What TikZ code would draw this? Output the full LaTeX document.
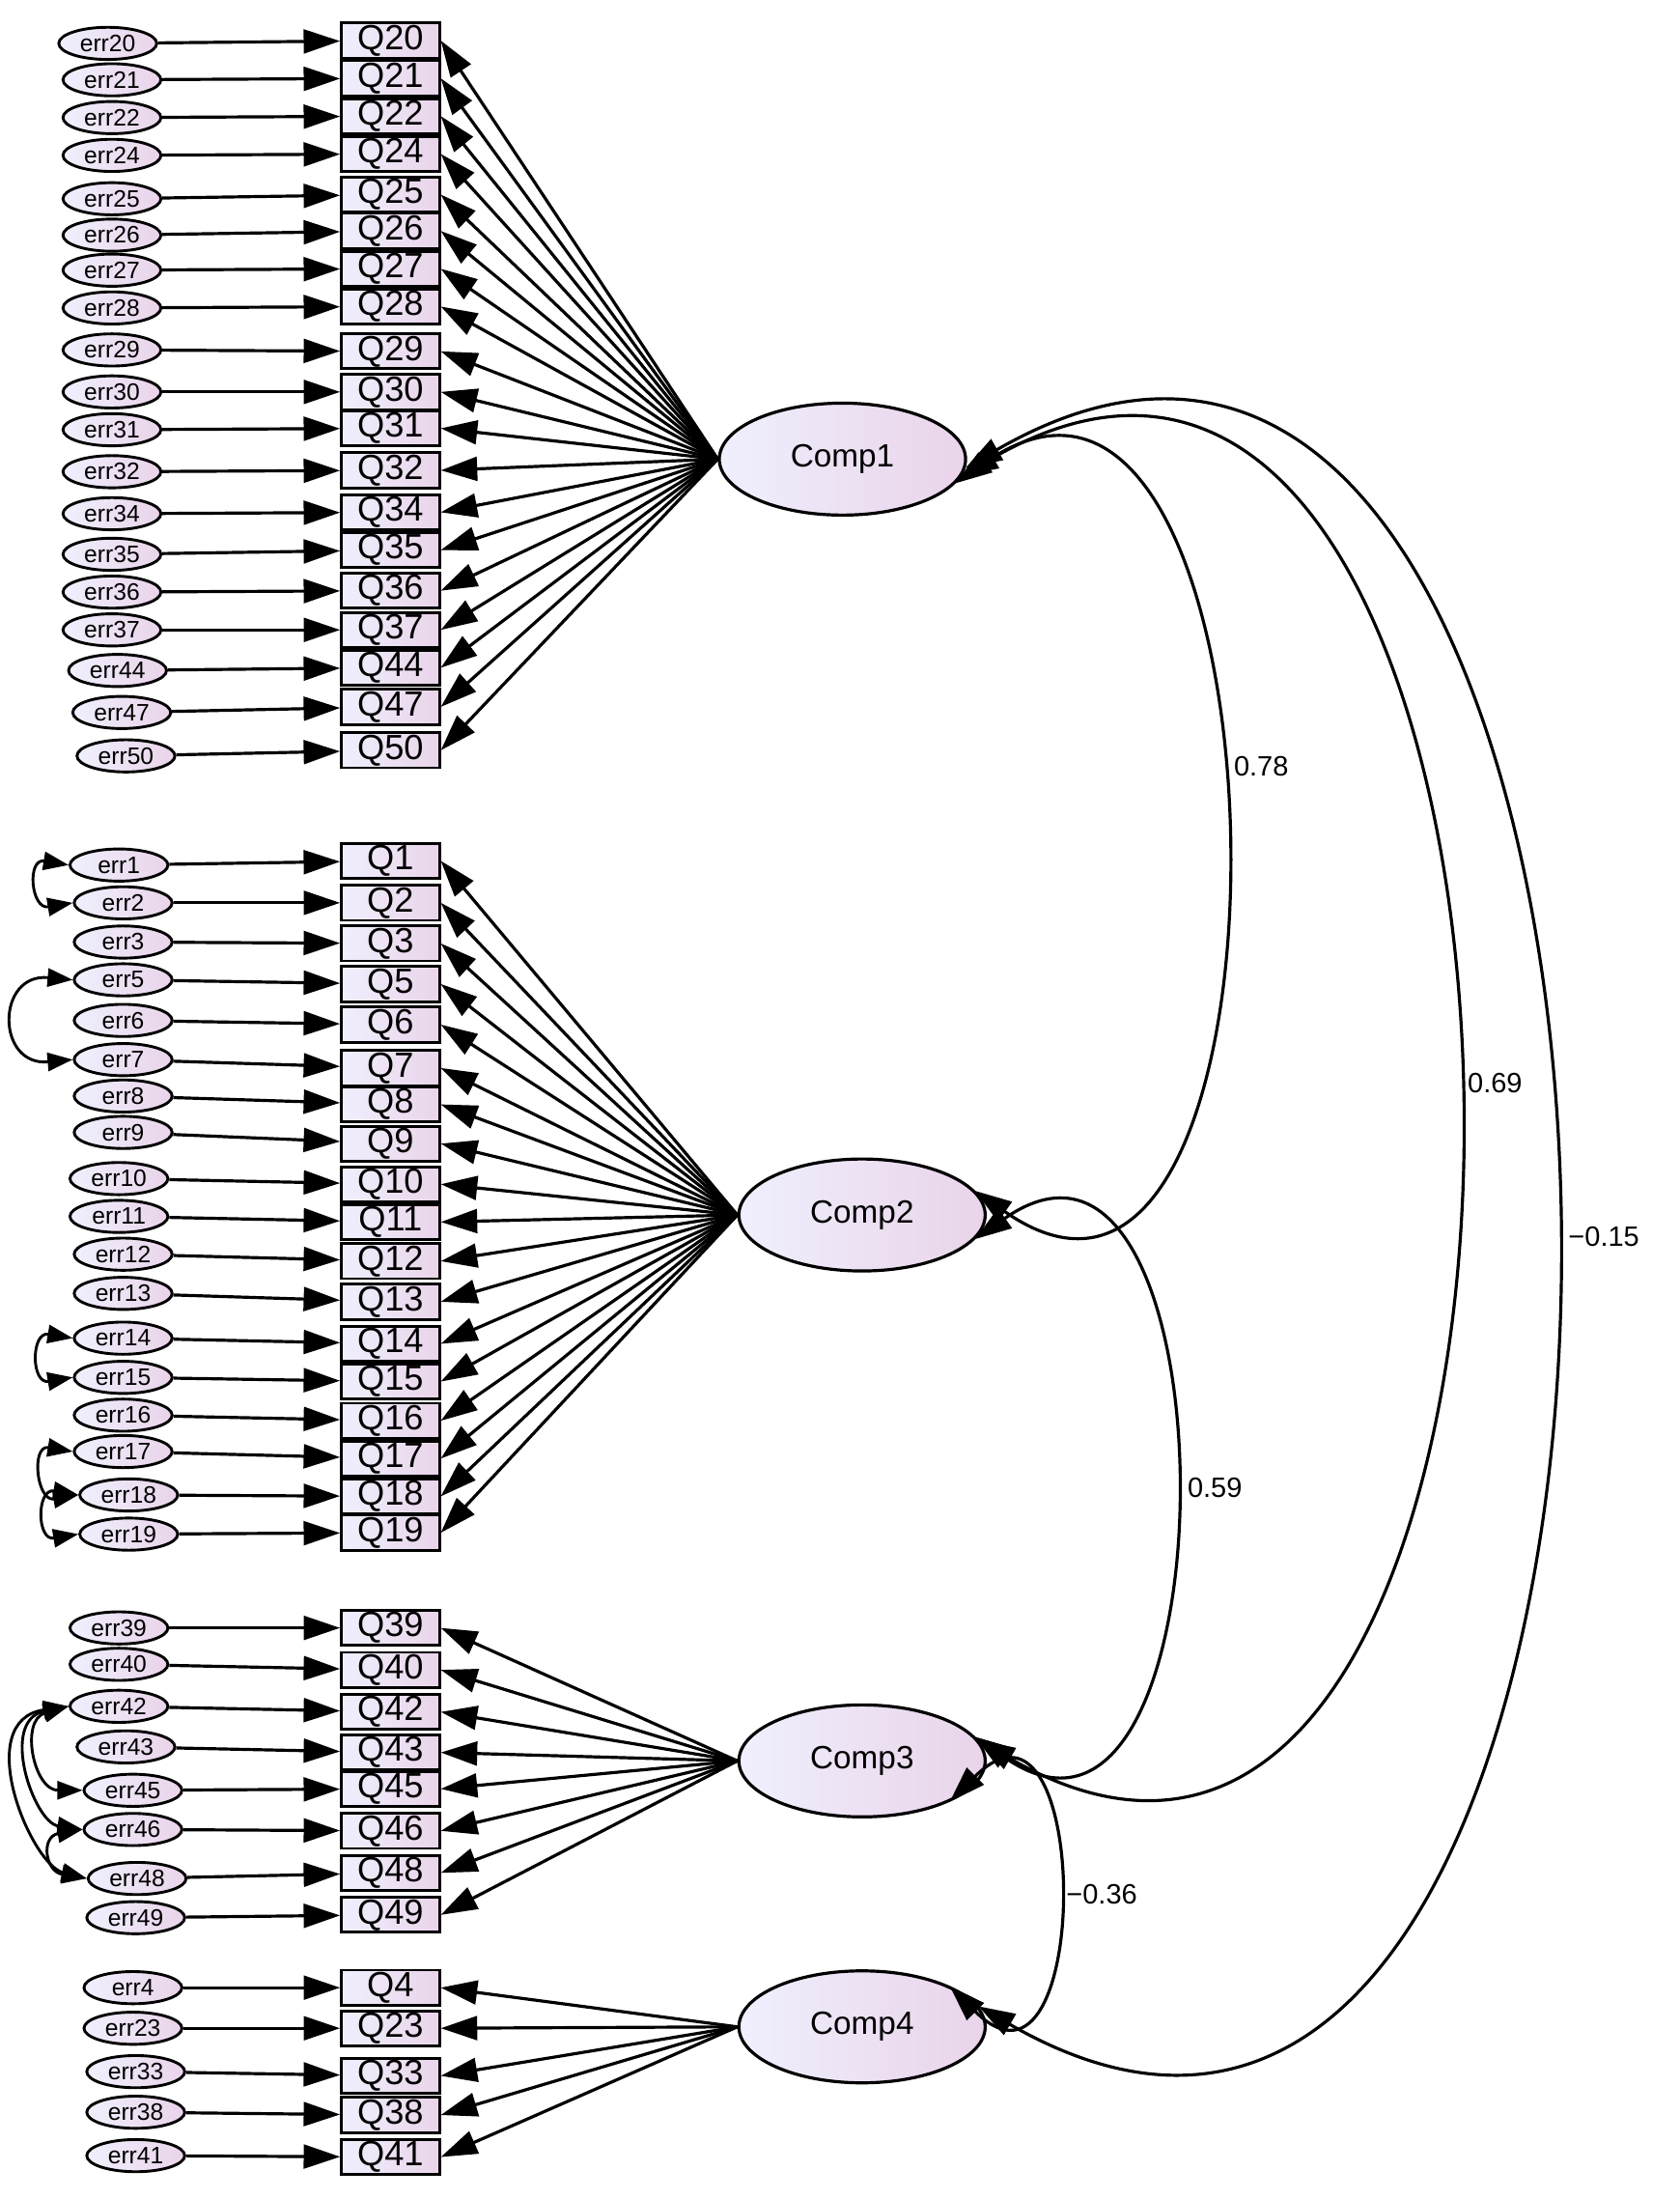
\documentclass[tikz,border=0pt]{standalone}
\usepackage{fontspec}
\setmainfont{Liberation Sans}
\usetikzlibrary{shapes.geometric,arrows.meta}
\begin{document}
\begin{tikzpicture}[x=1pt,y=-1pt,
 arr/.style={line width=2.2pt,-{Triangle[length=26pt,width=17pt]}},
 dar/.style={line width=2.2pt,{Triangle[length=26pt,width=17pt]}-{Triangle[length=26pt,width=17pt]}},
 sar/.style={line width=2pt,{Triangle[length=18pt,width=13pt]}-{Triangle[length=18pt,width=13pt]}},
 qb/.style={draw,line width=2pt,minimum width=70pt,minimum height=25pt,inner sep=0pt,left color=black!12!blue!6,right color=violet!17,font=\fontsize{25}{25}\selectfont},
 eb/.style={draw,ellipse,line width=2pt,minimum width=70pt,minimum height=23pt,inner sep=0pt,left color=black!12!blue!6,right color=violet!17,font=\fontsize{17}{17}\selectfont},
 cb/.style={draw,ellipse,line width=2.2pt,minimum width=176pt,minimum height=80pt,left color=black!12!blue!6,right color=violet!17,font=\fontsize{23}{23}\selectfont},
 lab/.style={font=\fontsize{20}{20}\selectfont}]
\path[use as bounding box,fill=white] (0,0) rectangle (1200,1571);
\node[cb] (c1) at (602,328) {Comp1};
\node[cb] (c2) at (616,868) {Comp2};
\node[cb] (c3) at (616,1258) {Comp3};
\node[cb] (c4) at (616,1448) {Comp4};
% group 1
\foreach \n/\qy/\ex/\ey in {20/29/77/31,21/56/80/57,22/83/80/84,24/110/80/111,25/139/80/142,26/165/80/168,27/192/80/193,28/219/80/220,29/251/80/250,30/280/80/280,31/306/80/307,32/336/80/337,34/366/80/367,35/393/80/396,36/422/80/423,37/450/80/450,44/477/84/479,47/505/87/509,50/536/90/540}{
 \node[qb] (q\n) at (279,\qy) {Q\n};
 \node[eb] (e\n) at (\ex,\ey) {err\n};
 \draw[arr] (e\n) -- (q\n);
 \draw[arr] (c1.west) -- (q\n.east);
}
% group 2
\foreach \n/\qy/\ex/\ey in {1/615/85/618,2/645/88/645,3/674/88/673,5/703/88/700,6/732/88/729,7/763/88/757,8/789/88/783,9/817/88/809,10/846/85/842,11/873/85/869,12/901/88/896,13/930/88/924,14/960/88/956,15/987/88/984,16/1015/88/1011,17/1042/88/1037,18/1069/92/1068,19/1095/92/1096}{
 \node[qb] (q\n) at (279,\qy) {Q\n};
 \node[eb] (e\n) at (\ex,\ey) {err\n};
 \draw[arr] (e\n) -- (q\n);
 \draw[arr] (c2.west) -- (q\n.east);
}
% group 3
\foreach \n/\qy/\ex/\ey in {39/1163/85/1163,40/1193/85/1189,42/1223/85/1219,43/1252/90/1248,45/1278/95/1279,46/1308/95/1307,48/1338/98/1342,49/1368/97/1370}{
 \node[qb] (q\n) at (279,\qy) {Q\n};
 \node[eb] (e\n) at (\ex,\ey) {err\n};
 \draw[arr] (e\n) -- (q\n);
 \draw[arr] (c3.west) -- (q\n.east);
}
% group 4
\foreach \n/\qy/\ex/\ey in {4/1420/95/1420,23/1449/95/1449,33/1483/97/1480,38/1511/97/1509,41/1541/97/1540}{
 \node[qb] (q\n) at (279,\qy) {Q\n};
 \node[eb] (e\n) at (\ex,\ey) {err\n};
 \draw[arr] (e\n) -- (q\n);
 \draw[arr] (c4.west) -- (q\n.east);
}
% error covariances
\draw[sar] (e1.west) .. controls +(-30,-5) and +(-30,5) .. (e2.west);
\draw[sar] (e5.west) .. controls +(-55,-5) and +(-55,5) .. (e7.west);
\draw[sar] (e14.west) .. controls +(-30,-5) and +(-30,5) .. (e15.west);
\draw[sar] (e17.west) .. controls +(-30,-5) and +(-30,5) .. (e18.west);
\draw[sar] (e18.west) .. controls +(-30,-5) and +(-30,5) .. (e19.west);
\draw[sar] (e42.west) .. controls +(-35,10) and +(-35,0) .. (e45.west);
\draw[sar] (e42.west) .. controls +(-50,10) and +(-35,-5) .. (e46.west);
\draw[sar] (e42.west) .. controls +(-70,10) and +(-40,-10) .. (e48.west);
\draw[sar] (e46.west) .. controls +(-30,5) and +(-30,-5) .. (e48.west);
% factor covariances
\draw[dar] (c1.-12) .. controls +(-35:300) and +(35:300) .. node[lab,pos=0.45,right=6pt] {0.78} (c2.12);
\draw[dar] (c1.-8) .. controls +(-30:535) and +(30:535) .. node[lab,pos=0.49,right=4pt] {0.69} (c3.10);
\draw[dar] (c1.-4) .. controls +(-30:640) and +(30:640) .. node[lab,pos=0.5,right=6pt] {\symbol{"2212}0.15} (c4.10);
\draw[dar] (c2.-12) .. controls +(-35:230) and +(35:230) .. node[lab,pos=0.5,right=6pt] {0.59} (c3.12);
\draw[dar] (c3.-25) .. controls +(-45:145) and +(45:145) .. node[lab,pos=0.5,right=2pt] {\symbol{"2212}0.36} (c4.25);
\end{tikzpicture}
\end{document}
